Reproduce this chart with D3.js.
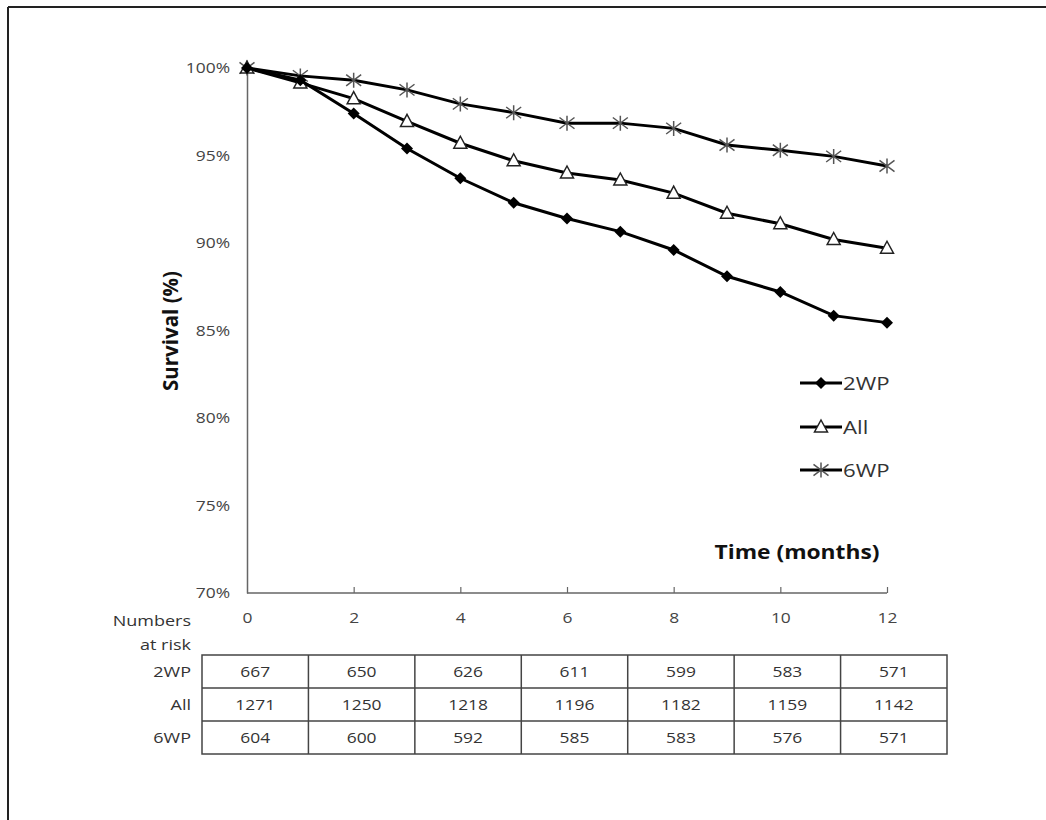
<!DOCTYPE html>
<html>
<head>
<meta charset="utf-8">
<script src="https://cdn.jsdelivr.net/npm/d3@7"></script>
<style>
  body { margin: 0; background: #fff; }
  svg text { font-family: "Open Sans", Lato, sans-serif; }
</style>
</head>
<body>
<div id="chart"></div>
<script>
// survival data (percent at each month)
const months = [0, 1, 2, 3, 4, 5, 6, 7, 8, 9, 10, 11, 12];
const surv2WP = [100, 99.3, 97.4, 95.4, 93.7, 92.3, 91.4, 90.65, 89.6, 88.1, 87.2, 85.85, 85.45];
const survAll = [100, 99.15, 98.25, 96.95, 95.7, 94.7, 94.0, 93.6, 92.85, 91.7, 91.1, 90.2, 89.7];
const surv6WP = [100, 99.55, 99.3, 98.75, 97.95, 97.45, 96.85, 96.85, 96.55, 95.6, 95.3, 94.95, 94.4];

const seriesNames = ["2WP", "All", "6WP"];
const yTicks = [70, 75, 80, 85, 90, 95, 100];
const xTicks = [0, 2, 4, 6, 8, 10, 12];

// numbers at risk table
const riskMonths = [0, 2, 4, 6, 8, 10, 12];
const risk2WP = [667, 650, 626, 611, 599, 583, 571];
const riskAll = [1271, 1250, 1218, 1196, 1182, 1159, 1142];
const risk6WP = [604, 600, 592, 585, 583, 576, 571];

const width = 1046, height = 820;
const SX = 1.2;   // the original picture is a bit stretched sideways, so text is too

const svg = d3.select("#chart").append("svg")
    .attr("width", width)
    .attr("height", height);

// text that is stretched horizontally around its anchor point
function addText(parent, x, y, str, size, anchor, weight, fill) {
    return parent.append("text")
        .attr("transform", "translate(" + x + "," + y + ") scale(" + SX + ",1)")
        .attr("text-anchor", anchor || "start")
        .style("font-size", size + "px")
        .style("font-weight", weight || "normal")
        .style("fill", fill || "#333")
        .text(str);
}

// frame (only top and left edges show)
svg.append("line").attr("x1", 8).attr("x2", width).attr("y1", 7).attr("y2", 7)
    .style("stroke", "#222").style("stroke-width", 2);
svg.append("line").attr("x1", 8).attr("x2", 8).attr("y1", 7).attr("y2", height)
    .style("stroke", "#222").style("stroke-width", 2);

const x = d3.scaleLinear().domain([0, 12]).range([247, 887]);
const y = d3.scaleLinear().domain([70, 100]).range([593, 68]);

// axes
const xAxis = svg.append("g")
    .attr("transform", "translate(0," + y(70) + ")")
    .call(d3.axisBottom(x).tickValues(xTicks).tickSize(-6).tickFormat(d3.format("d")).tickPadding(20));
xAxis.select(".domain").attr("d", "M" + x(0) + ",0H" + x(12)).style("stroke", "#666").style("stroke-width", 1.5);
xAxis.selectAll(".tick line").style("stroke", "#666").style("stroke-width", 1.2)
    .filter(d => d === 0).remove();
xAxis.selectAll(".tick text")
    .attr("transform", "scale(" + SX + ",1)")
    .style("font-size", "14.5px").style("fill", "#444");

const yAxis = svg.append("g")
    .attr("transform", "translate(" + x(0) + ",0)")
    .call(d3.axisLeft(y).tickValues(yTicks).tickSize(0).tickPadding(17).tickFormat(d => d + "%"));
yAxis.select(".domain").style("stroke", "#666").style("stroke-width", 1.5);
yAxis.selectAll(".tick text")
    .attr("x", -17 / SX)
    .attr("transform", "scale(" + SX + ",1)")
    .style("font-size", "14.5px").style("fill", "#444");

// axis titles
svg.append("text")
    .attr("transform", "translate(178,331) rotate(-90)")
    .attr("text-anchor", "middle")
    .style("font-size", "20.5px").style("font-weight", "bold").style("fill", "#111")
    .text("Survival (%)");

addText(svg, 797, 559, "Time (months)", 19, "middle", "bold", "#111");

// marker drawing helpers
function drawMarker(g, kind, cx, cy) {
    if (kind === "2WP") {
        g.append("path")
            .attr("d", `M${cx},${cy - 6}L${cx + 6},${cy}L${cx},${cy + 6}L${cx - 6},${cy}Z`)
            .style("fill", "#000");
    } else if (kind === "All") {
        g.append("path")
            .attr("d", `M${cx},${cy - 7}L${cx + 6.5},${cy + 5}L${cx - 6.5},${cy + 5}Z`)
            .style("fill", "#fff").style("stroke", "#222").style("stroke-width", 1.5);
    } else {
        const r = 7.5;
        g.append("path")
            .attr("d", `M${cx},${cy - r}V${cy + r}M${cx - r},${cy - r * 0.75}L${cx + r},${cy + r * 0.75}M${cx - r},${cy + r * 0.75}L${cx + r},${cy - r * 0.75}`)
            .style("fill", "none").style("stroke", "#555").style("stroke-width", 1.5);
    }
}

const line = d3.line()
    .x((d, i) => x(months[i]))
    .y(d => y(d));

const seriesData = [surv2WP, survAll, surv6WP];

// draw 6WP first so 2WP ends up on top
[2, 1, 0].forEach(function(s) {
    const g = svg.append("g");
    g.append("path")
        .datum(seriesData[s])
        .attr("d", line)
        .style("fill", "none")
        .style("stroke", "#000")
        .style("stroke-width", 3);
    seriesData[s].forEach(function(v, i) {
        drawMarker(g, seriesNames[s], x(months[i]), y(v));
    });
});

// legend
const legendY = [383, 427, 470];
seriesNames.forEach(function(name, i) {
    const g = svg.append("g");
    g.append("line")
        .attr("x1", 800).attr("x2", 842)
        .attr("y1", legendY[i]).attr("y2", legendY[i])
        .style("stroke", "#000").style("stroke-width", 3);
    drawMarker(g, name, 821, legendY[i]);
    addText(g, 843, legendY[i] + 7, name, 18.5, "start", "normal", "#333");
});

// numbers at risk
addText(svg, 191, 626, "Numbers", 15, "end");
addText(svg, 191, 650, "at risk", 15, "end");

const colScale = d3.scaleBand().domain(riskMonths).range([202, 947]);
const rowScale = d3.scaleBand().domain(seriesNames).range([655, 754]);
const riskRows = [risk2WP, riskAll, risk6WP];

const table = svg.append("g");
table.append("rect")
    .attr("x", colScale.range()[0]).attr("y", rowScale.range()[0])
    .attr("width", colScale.range()[1] - colScale.range()[0])
    .attr("height", rowScale.range()[1] - rowScale.range()[0])
    .style("fill", "none").style("stroke", "#444").style("stroke-width", 1.5);

table.selectAll(".vline")
    .data(riskMonths.slice(1))
    .enter()
    .append("line")
    .attr("x1", d => colScale(d)).attr("x2", d => colScale(d))
    .attr("y1", rowScale.range()[0]).attr("y2", rowScale.range()[1])
    .style("stroke", "#444").style("stroke-width", 1.5);

table.selectAll(".hline")
    .data(seriesNames.slice(1))
    .enter()
    .append("line")
    .attr("x1", colScale.range()[0]).attr("x2", colScale.range()[1])
    .attr("y1", d => rowScale(d)).attr("y2", d => rowScale(d))
    .style("stroke", "#444").style("stroke-width", 1.5);

seriesNames.forEach(function(name, r) {
    const cy = rowScale(name) + rowScale.bandwidth() / 2 + 5.5;
    addText(table, 191, cy, name, 15, "end");
    riskRows[r].forEach(function(v, c) {
        addText(table, colScale(riskMonths[c]) + colScale.bandwidth() / 2, cy, v, 14.5, "middle");
    });
});
</script>
</body>
</html>
